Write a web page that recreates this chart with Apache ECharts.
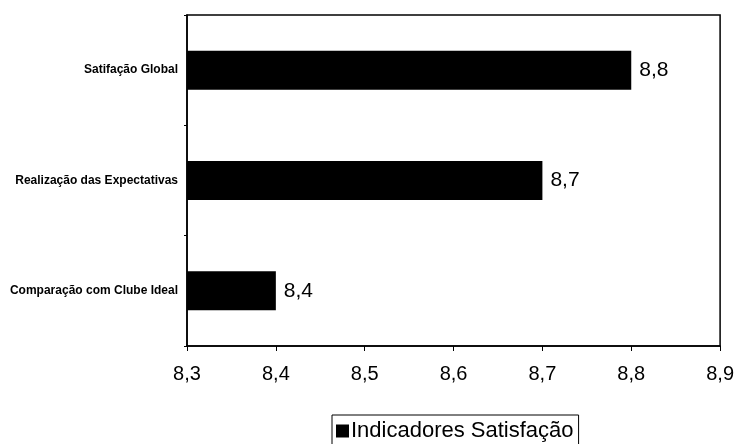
<!DOCTYPE html>
<html>
<head>
<meta charset="utf-8">
<script src="https://cdn.jsdelivr.net/npm/echarts@6/dist/echarts.min.js"></script>
<style>
  html, body { margin: 0; padding: 0; background: #fff; }
  #chart { width: 737px; height: 444px; }
</style>
</head>
<body>
<div id="chart"></div>
<script>
// Categories listed bottom-to-top (category y-axis grows upward)
const categories = ['Comparação com Clube Ideal', 'Realização das Expectativas', 'Satifação Global'];
const seriesName = 'Indicadores Satisfação';
const values = [8.4, 8.7, 8.8];
const axisMin = 8.3;
const axisMax = 8.9;
const axisStep = 0.1;

const fmt = v => (Math.round(v * 10) / 10).toFixed(1).replace('.', ',');
const FONT = '"Liberation Sans", Arial, sans-serif';

const chart = echarts.init(document.getElementById('chart'), null, { renderer: 'canvas' });
chart.setOption({
  animation: false,
  backgroundColor: '#fff',
  grid: {
    left: 187, right: 14, top: 15, bottom: 98,
    show: true, borderColor: '#000', borderWidth: 1.5, backgroundColor: '#fff'
  },
  legend: {
    data: [seriesName],
    left: 332, top: 415,
    icon: 'rect', itemWidth: 13, itemHeight: 13, itemGap: 4,
    padding: [5, 5, 12, 4],
    borderColor: '#000', borderWidth: 1,
    textStyle: { fontFamily: FONT, fontSize: 22, color: '#000', padding: [0, 0, 0, -3] }
  },
  xAxis: {
    type: 'value',
    min: axisMin, max: axisMax, interval: axisStep,
    axisLine: { show: true, lineStyle: { color: '#000', width: 1.5 } },
    axisTick: { show: true, length: 5, lineStyle: { color: '#000' } },
    splitLine: { show: false },
    axisLabel: {
      margin: 18, color: '#000', fontFamily: FONT, fontSize: 20,
      formatter: v => fmt(v)
    }
  },
  yAxis: {
    type: 'category',
    data: categories,
    axisLine: { show: true, lineStyle: { color: '#000', width: 1.5 } },
    axisTick: { show: true, length: 3, lineStyle: { color: '#000' } },
    axisLabel: {
      margin: 9, color: '#000', fontFamily: FONT, fontSize: 12, fontWeight: 'bold'
    }
  },
  series: [{
    name: seriesName,
    type: 'bar',
    data: values,
    barWidth: 39,
    itemStyle: { color: '#000' },
    label: {
      show: true, position: 'right', distance: 8,
      color: '#000', fontFamily: FONT, fontSize: 21,
      formatter: p => fmt(p.value)
    }
  }]
});
</script>
</body>
</html>
